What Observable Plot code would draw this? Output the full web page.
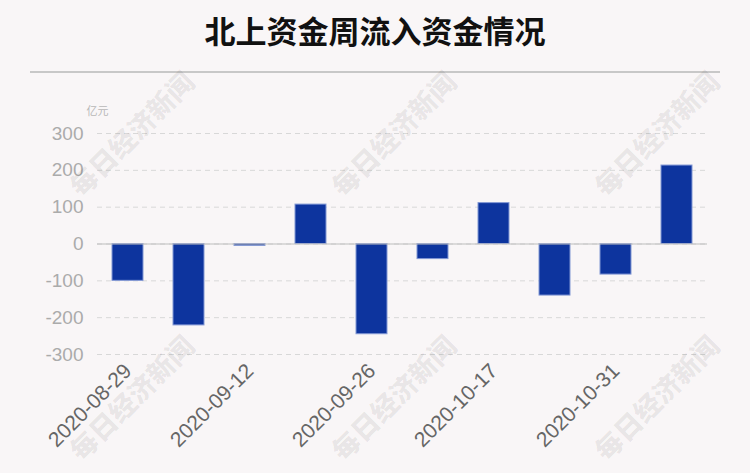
<!DOCTYPE html>
<html>
<head>
<meta charset="utf-8">
<script src="https://cdn.jsdelivr.net/npm/d3@7"></script>
<script src="https://cdn.jsdelivr.net/npm/@observablehq/plot@0.6"></script>
<style>
  html, body { margin: 0; padding: 0; background: #f9f6f7; }
  #wrap { position: relative; width: 750px; height: 473px; overflow: hidden; background: #f9f6f7; }
  #title { height: 71px; line-height: 60px; text-align: center; font-family: "Noto Sans CJK SC", sans-serif; font-weight: 700; font-size: 31px; color: #111; }
  #rule { margin: 0 30px; border-top: 2px solid #c8c8c8; }
  .wm { position: absolute; font-family: "Noto Sans CJK SC", sans-serif; font-weight: 900; font-size: 27px; color: rgba(0,0,0,0.075); transform: translate(-50%, -50%) rotate(-45deg); white-space: nowrap; pointer-events: none; }
  #chart svg { display: block; }
</style>
</head>
<body>
<div id="wrap">
  <div id="title">北上资金周流入资金情况</div>
  <div id="rule"></div>
  <div id="chart"></div>
</div>
<script>
const weeks = ["2020-08-29","2020-09-05","2020-09-12","2020-09-19","2020-09-26","2020-10-10","2020-10-17","2020-10-24","2020-10-31","2020-11-07"];
const flows = [-100, -221, -5, 107, -245, -41, 111, -140, -83, 213];
const yTicks = [-300, -200, -100, 0, 100, 200, 300];
const xTickLabels = ["2020-08-29","2020-09-12","2020-09-26","2020-10-17","2020-10-31"];
const unitLabel = "亿元";
const watermark = "每日经济新闻";

const data = weeks.map((w, i) => ({week: w, value: flows[i]}));

const chart = Plot.plot({
  width: 750,
  height: 400,
  marginTop: 60,
  marginBottom: 119,
  marginLeft: 97,
  marginRight: 43,
  style: {background: "transparent", fontFamily: "Liberation Sans, Arial, sans-serif"},
  x: {type: "band", domain: weeks, paddingInner: 0.5, paddingOuter: 0.25},
  y: {domain: [-300, 300]},
  marks: [
    Plot.gridY(yTicks, {stroke: "#d8d8d8", strokeOpacity: 1, strokeDasharray: "5,4"}),
    Plot.axisY(yTicks, {tickSize: 0, tickPadding: 14, fontSize: 19, fill: "#ababab", label: null, tickFormat: d => String(d)}),
    Plot.ruleX([0], {frameAnchor: "left", stroke: "#d0d0d0"}),
    Plot.text([unitLabel], {frameAnchor: "top-left", dx: -11, dy: -26, fontSize: 11, fill: "#b8b8b8", fontFamily: "Noto Sans CJK SC, sans-serif"}),
    Plot.barY(data, {x: "week", y: "value", fill: "#0d349e", stroke: "#8297d4", strokeWidth: 1}),
    Plot.ruleY([0], {stroke: "#bdbdbd", strokeWidth: 1.2}),
    Plot.axisX(xTickLabels, {tickSize: 0, tickPadding: 13, tickRotate: -45, fontSize: 21, fill: "#666", label: null})
  ]
});
document.getElementById("chart").appendChild(chart);

// decorative watermarks (centres)
const wmPos = [[131, 133], [393, 133], [656, 133], [131, 397], [393, 397], [656, 397]];
const wrap = document.getElementById("wrap");
wmPos.forEach(([l, t]) => {
  const d = document.createElement("div");
  d.className = "wm";
  d.textContent = watermark;
  d.style.left = l + "px";
  d.style.top = t + "px";
  wrap.appendChild(d);
});
</script>
</body>
</html>
